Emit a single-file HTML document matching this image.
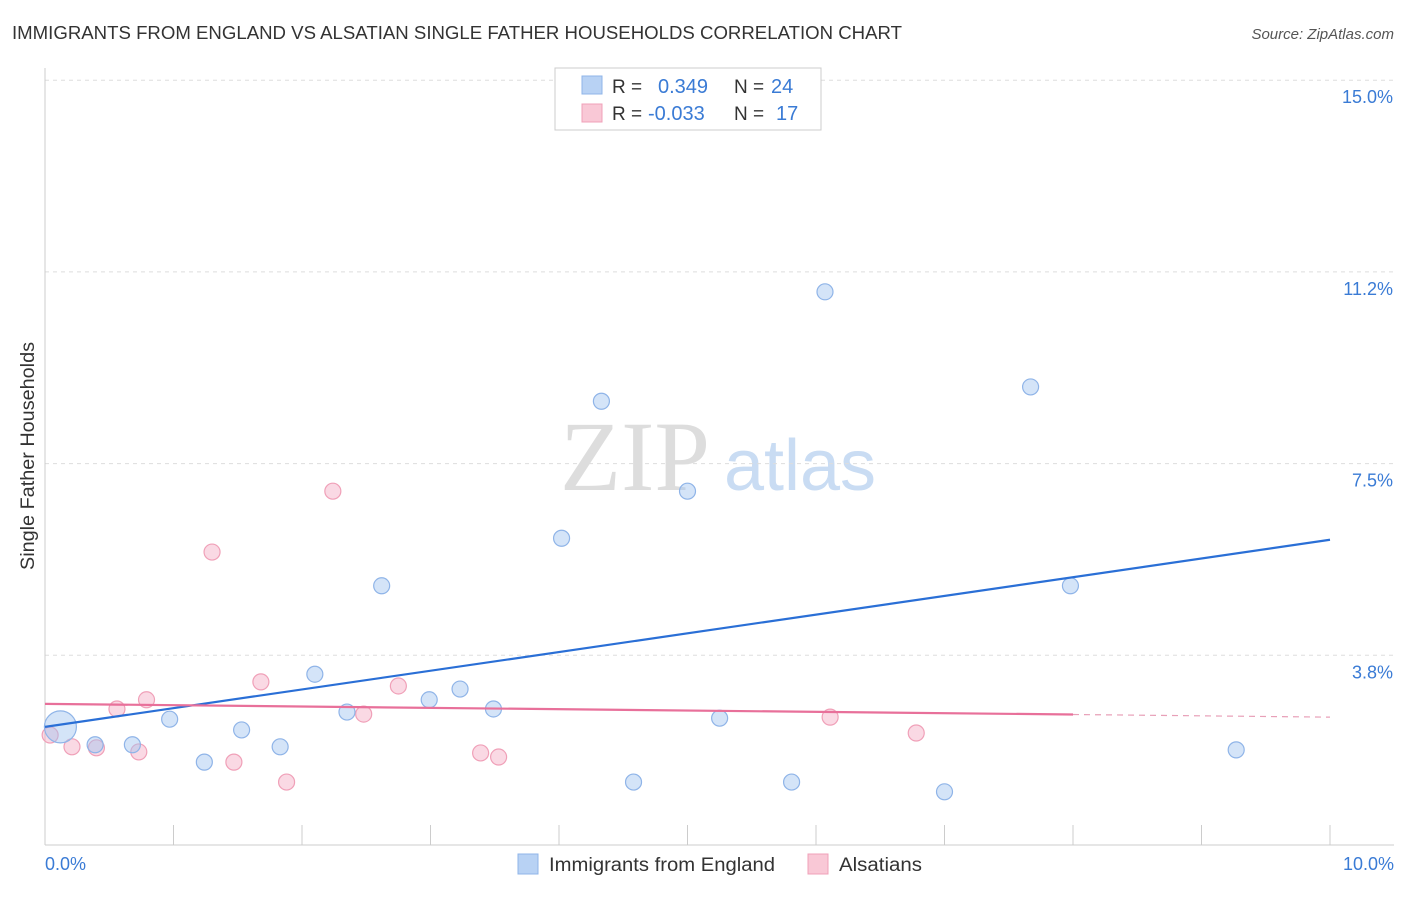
<!DOCTYPE html>
<html><head><meta charset="utf-8"><style>
body{margin:0;background:#fff;font-family:"Liberation Sans",sans-serif;}
svg text{font-family:"Liberation Sans",sans-serif;}
svg text.serif{font-family:"Liberation Serif",serif;}
</style></head><body>
<svg id="chart" width="1406" height="892" xmlns="http://www.w3.org/2000/svg">
<text x="12" y="39" font-size="18" fill="#333" textLength="890" lengthAdjust="spacingAndGlyphs">IMMIGRANTS FROM ENGLAND VS ALSATIAN SINGLE FATHER HOUSEHOLDS CORRELATION CHART</text>
<text x="1394" y="39" font-size="15" fill="#555" text-anchor="end" font-style="italic">Source: ZipAtlas.com</text>
<text transform="translate(34,456) rotate(-90)" font-size="19" fill="#333" text-anchor="middle" textLength="228" lengthAdjust="spacingAndGlyphs">Single Father Households</text>
<g><text class="serif" x="635" y="490" font-size="100" fill="#ddd" text-anchor="middle">ZIP</text><text x="800" y="490" font-size="72" fill="#c9dcf3" text-anchor="middle">atlas</text></g>
<g id="grid"></g><g id="axes"></g><g id="marks"></g>
<g>
<rect x="555" y="68" width="266" height="62" fill="#fff" stroke="#ccc"/>
<rect x="582" y="76" width="20" height="18" fill="#b8d2f4" stroke="#8fb4e8"/>
<text x="612" y="93" font-size="19" fill="#333">R =</text><text x="658" y="93" font-size="20" fill="#3a7bd5">0.349</text>
<text x="734" y="93" font-size="19" fill="#333">N =</text><text x="771" y="93" font-size="20" fill="#3a7bd5">24</text>
<rect x="582" y="104" width="20" height="18" fill="#f9c8d6" stroke="#f0a0b8"/>
<text x="612" y="120" font-size="19" fill="#333">R =</text><text x="648" y="120" font-size="20" fill="#3a7bd5">-0.033</text>
<text x="734" y="120" font-size="19" fill="#333">N =</text><text x="776" y="120" font-size="20" fill="#3a7bd5">17</text>
</g>
<g>
<rect x="518" y="854" width="20" height="20" fill="#b8d2f4" stroke="#8fb4e8"/>
<text x="549" y="871" font-size="19" fill="#333" textLength="226" lengthAdjust="spacingAndGlyphs">Immigrants from England</text>
<rect x="808" y="854" width="20" height="20" fill="#f9c8d6" stroke="#f0a0b8"/>
<text x="839" y="871" font-size="19" fill="#333" textLength="83" lengthAdjust="spacingAndGlyphs">Alsatians</text>
</g>
</svg>
<script>
const xTicks=[0,1,2,3,4,5,6,7,8,9,10];
const yTicks=[3.75,7.5,11.25,15];
const yTickLabels=["3.8%","7.5%","11.2%","15.0%"];
const blueX=[0.12,0.39,0.68,0.97,1.24,1.53,1.83,2.10,2.35,2.62,2.99,3.23,3.49,4.02,4.33,4.58,5.00,5.25,5.81,6.07,7.00,7.67,7.98,9.27];
const blueY=[2.35,2.00,2.00,2.50,1.66,2.29,1.96,3.38,2.64,5.11,2.88,3.09,2.70,6.04,8.72,1.27,6.96,2.52,1.27,10.86,1.08,9.00,5.11,1.90];
const pinkX=[0.04,0.21,0.40,0.56,0.73,0.79,1.30,1.47,1.68,1.88,2.24,2.48,2.75,3.39,3.53,6.11,6.78];
const pinkY=[2.19,1.96,1.94,2.70,1.86,2.88,5.77,1.66,3.23,1.27,6.96,2.60,3.15,1.84,1.76,2.54,2.23];
const blueLine=[2.35,6.01];
const pinkLine=[2.80,2.54];
const pinkSolidEnd=8.0;
const NS="http://www.w3.org/2000/svg";
const sx=v=>45+v*128.5, sy=v=>847-v*51.12;
function mk(t,a,p){const e=document.createElementNS(NS,t);for(const k in a)e.setAttribute(k,a[k]);p.appendChild(e);return e;}
const grid=document.getElementById('grid'),axes=document.getElementById('axes'),marks=document.getElementById('marks');
yTicks.forEach((v,i)=>{
 const l=mk('line',{x1:45,x2:1394,y1:sy(v),y2:sy(v),stroke:'#ddd','stroke-dasharray':'4,4'},grid);
 
 
 const t=mk('text',{x:1393,y:sy(v)+23,'font-size':18,fill:'#3a7bd5','text-anchor':'end'},axes);
 t.textContent=yTickLabels[i];
 
 
});
const ax=mk('line',{x1:45,x2:1394,y1:845,y2:845,stroke:'#ccc'},axes);


const ay=mk('line',{x1:45,x2:45,y1:68,y2:845,stroke:'#ccc'},axes);


xTicks.forEach(v=>{
 const l=mk('line',{x1:sx(v),x2:sx(v),y1:825,y2:845,stroke:'#ccc'},axes);
 
 
});
[[0,"0.0%",'start',45],[10,"10.0%",'end',1394]].forEach(d=>{
 const t=mk('text',{x:d[3],y:870,'font-size':18,fill:'#3a7bd5','text-anchor':d[2]},axes);
 t.textContent=d[1];
 
 
});
pinkX.forEach((x,i)=>{
 const c=mk('circle',{cx:sx(x),cy:sy(pinkY[i]),r:8,fill:'rgba(245,170,195,0.45)',stroke:'#f0a0b8','stroke-width':1.2},marks);
 
 
});
blueX.forEach((x,i)=>{
 const c=mk('circle',{cx:sx(x),cy:sy(blueY[i]),r:i===0?16:8,fill:'rgba(160,195,240,0.45)',stroke:'#8fb4e8','stroke-width':1.2},marks);
 
 
});
const bl=mk('line',{x1:sx(0),y1:sy(blueLine[0]),x2:sx(10),y2:sy(blueLine[1]),stroke:'#2a6fd6','stroke-width':2.2},marks);


const pm=pinkLine[0]+(pinkLine[1]-pinkLine[0])*pinkSolidEnd/10;
const pl=mk('line',{x1:sx(0),y1:sy(pinkLine[0]),x2:sx(pinkSolidEnd),y2:sy(pm),stroke:'#e8709a','stroke-width':2.2},marks);


const pd=mk('line',{x1:sx(pinkSolidEnd),y1:sy(pm),x2:sx(10),y2:sy(pinkLine[1]),stroke:'#e8a0b8','stroke-width':1.2,'stroke-dasharray':'6,5'},marks);


</script>
</body></html>
